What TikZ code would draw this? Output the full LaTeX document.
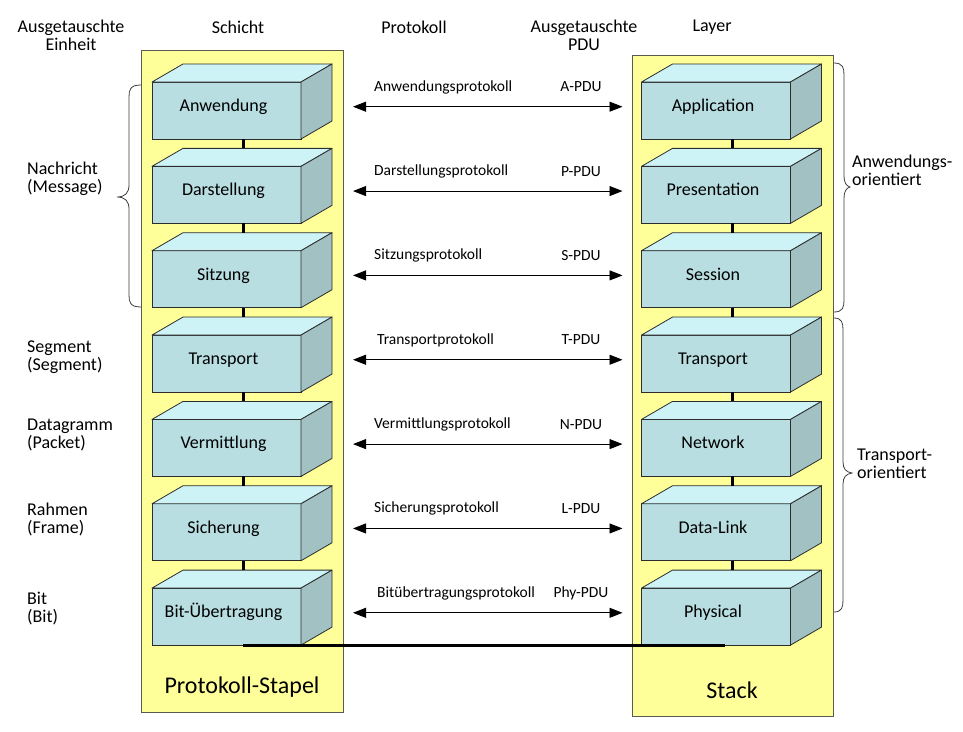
\documentclass[tikz,border=0pt]{standalone}
\usepackage{fontspec}
\setmainfont{Carlito}
\usetikzlibrary{arrows.meta,calc}
\definecolor{colyellow}{RGB}{255,255,153}
\definecolor{colborder}{RGB}{90,90,80}
\definecolor{frontc}{RGB}{184,222,225}
\definecolor{topc}{RGB}{205,243,246}
\definecolor{sidec}{RGB}{161,193,195}
\definecolor{edgec}{RGB}{45,45,45}
\definecolor{bracec}{RGB}{60,60,60}
\tikzset{
  front/.style={draw=edgec, fill=frontc, line width=0.8pt, minimum width=149pt, minimum height=57pt,
    inner sep=0pt, outer sep=0pt, text height=12pt, text depth=10pt, font=\fontsize{18}{18}\selectfont},
  topface/.style={draw=edgec, fill=topc, line width=0.8pt, line join=round},
  sideface/.style={draw=edgec, fill=sidec, line width=0.8pt, line join=round},
  stackcol/.style={draw=colborder, fill=colyellow, line width=0.8pt},
  conn/.style={line width=3pt, black},
  bottomline/.style={line width=3pt, black},
  arr/.style={{Triangle[length=13pt,width=10pt]}-{Triangle[length=13pt,width=10pt]}, line width=0.9pt, black},
  plabel/.style={font=\fontsize{15.5}{15.5}\selectfont, inner sep=0pt},
  hlabel/.style={font=\fontsize{18}{18}\selectfont, align=center, inner sep=0pt},
  slabel/.style={font=\fontsize{18}{18}\selectfont, align=left, inner sep=0pt, anchor=west},
  biglabel/.style={font=\fontsize{24}{24}\selectfont, inner sep=0pt},
  bracestyle/.style={draw=bracec, line width=0.8pt},
}
\newcommand\layerbox[4]{%
  \node[front] (#1) at (#2,-#3-28.5) {\hspace*{-6pt}#4};
  \filldraw[topface] (#1.north west) -- ++(31,18) -- ($(#1.north east)+(31,18)$) -- (#1.north east) -- cycle;
  \filldraw[sideface] (#1.north east) -- ++(31,18) -- ($(#1.south east)+(31,18)$) -- (#1.south east) -- cycle;
}
\begin{document}
\begin{tikzpicture}[x=1pt,y=1pt]
\useasboundingbox (0,0) rectangle (963,-731);
% columns
\filldraw[stackcol] (141.5,-50) rectangle (343,-712);
\filldraw[stackcol] (632,-55) rectangle (833.5,-716);
% braces
\draw[bracestyle] (141,-85) .. controls (130,-85) and (129,-90) .. (129,-97) -- (129,-185)
  .. controls (129,-193) and (125,-197) .. (117,-197)
  .. controls (125,-197) and (129,-201) .. (129,-209) -- (129,-295)
  .. controls (129,-302) and (130,-307) .. (141,-307);
\draw[bracestyle] (834,-63) .. controls (843,-63) and (844,-68) .. (844,-75) -- (844,-176)
  .. controls (844,-182) and (846,-186) .. (850,-187)
  .. controls (846,-188) and (844,-192) .. (844,-198) -- (844,-300)
  .. controls (844,-307) and (843,-312) .. (834,-312);
\draw[bracestyle] (834,-318) .. controls (842,-318) and (843,-323) .. (843,-330) -- (843,-462)
  .. controls (843,-469) and (846,-472) .. (852,-473)
  .. controls (846,-474) and (843,-477) .. (843,-484) -- (843,-600)
  .. controls (843,-607) and (842,-612) .. (834,-612);
% boxes
\foreach \i/\lt/\rt in {0/Anwendung/Application, 1/Darstellung/Presentation, 2/Sitzung/Session,
  3/Transport/Transport, 4/Vermittlung/Network, 5/Sicherung/Data-Link, 6/Bit-Übertragung/Physical} {
  \pgfmathsetmacro\ty{82+\i*84.35}
  \layerbox{L\i}{226.5}{\ty}{\lt}
  \layerbox{R\i}{716}{\ty}{\rt}
}
% connectors between layers
\foreach \i [evaluate=\i as \j using int(\i+1)] in {0,...,5} {
  \draw[conn] ([xshift=16.5pt]L\i.south) -- ([xshift=16.5pt,yshift=18pt]L\j.north);
  \draw[conn] ([xshift=16pt]R\i.south) -- ([xshift=16pt,yshift=18pt]R\j.north);
}
% physical medium
\draw[bottomline] ([xshift=16.5pt]L6.south) -- ([xshift=9pt]R6.south);
% protocol arrows and labels
\foreach \i/\pn/\pdu/\px in {0/Anwendungsprotokoll/A-PDU/374, 1/Darstellungsprotokoll/P-PDU/374,
  2/Sitzungsprotokoll/S-PDU/374, 3/Transportprotokoll/T-PDU/377, 4/Vermittlungsprotokoll/N-PDU/374,
  5/Sicherungsprotokoll/L-PDU/374, 6/Bitübertragungsprotokoll/Phy-PDU/377} {
  \pgfmathsetmacro\ty{82+\i*84.35}
  \draw[arr, shorten <=52pt, shorten >=19pt] ([yshift=3.8pt]L\i.east) -- ([yshift=3.8pt]R\i.west);
  \node[plabel, anchor=west] (p\i) at (\px,-\ty-5) {\pn};
  \node[plabel] (u\i) at (581,-\ty-5) {\pdu};
}
% headers
\node[hlabel] (hEin) at (71,-35) {Ausgetauschte\\Einheit};
\node[hlabel] (hSch) at (238,-27) {Schicht};
\node[hlabel] (hPro) at (414,-27) {Protokoll};
\node[hlabel] (hPDU) at (584,-35) {Ausgetauschte\\PDU};
\node[hlabel] (hLay) at (712,-27) {Layer};
% side labels
\node[slabel] (sNach) at (27,-179) {Nachricht\\(Message)};
\node[slabel] (sSeg) at (27,-357.5) {Segment\\(Segment)};
\node[slabel] (sDat) at (27,-435) {Datagramm\\(Packet)};
\node[slabel] (sRah) at (27,-519.5) {Rahmen\\(Frame)};
\node[slabel] (sBit) at (27,-608.5) {Bit\\(Bit)};
\node[slabel] (sAnw) at (852,-170) {Anwendungs-\\orientiert};
\node[slabel] (sTra) at (857,-464) {Transport-\\orientiert};
% stack titles
\node[biglabel] (tL) at (242,-687) {Protokoll-Stapel};
\node[biglabel] (tR) at (732,-690) {Stack};
\end{tikzpicture}
\end{document}
